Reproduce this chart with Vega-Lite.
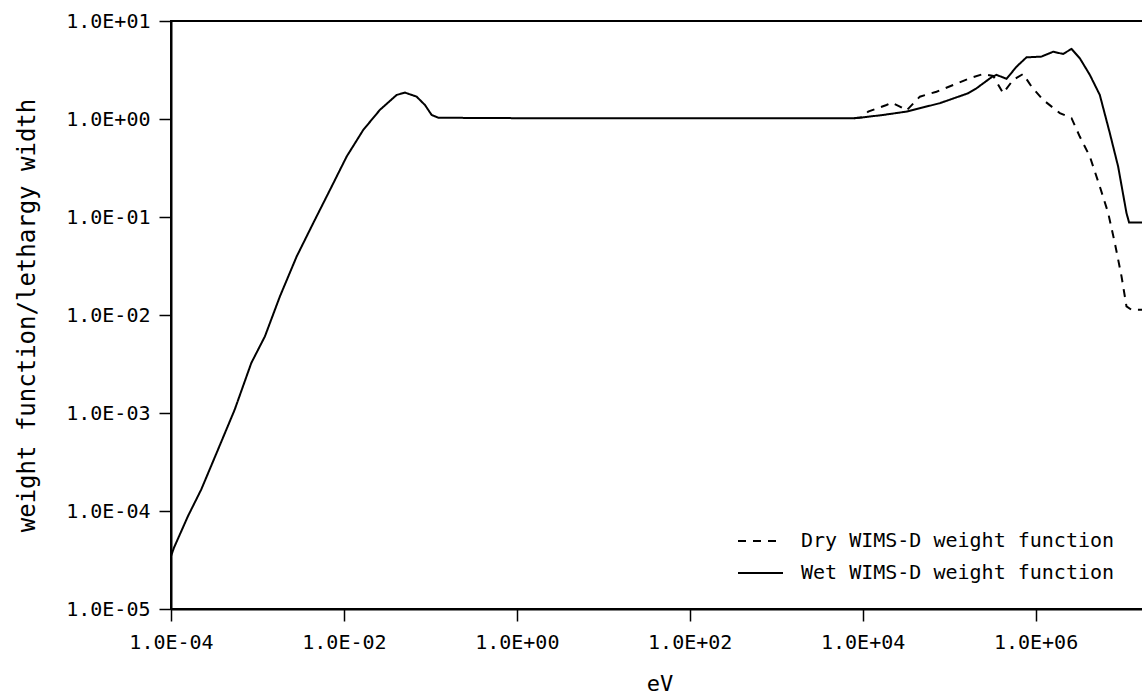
{
  "$schema": "https://vega.github.io/schema/vega-lite/v6.json",
  "autosize": {"type": "none"},
  "padding": {"left": 171, "top": 21, "right": 0, "bottom": 86},
  "width": 977,
  "height": 588,
  "background": "white",
  "config": {
    "view": {"stroke": "black", "strokeWidth": 2},
    "font": "DejaVu Sans Mono",
    "axis": {
      "grid": false,
      "domainColor": "black",
      "domainWidth": 2,
      "tickColor": "black",
      "tickWidth": 1.5,
      "tickSize": 12,
      "labelFont": "DejaVu Sans Mono",
      "labelFontSize": 20,
      "labelColor": "black",
      "labelFlush": false,
      "labelOverlap": false,
      "titleFont": "DejaVu Sans Mono",
      "titleFontWeight": "normal",
      "titleColor": "black"
    }
  },
  "data": {
    "values": [
      {"E": 1.0e-4, "W": 3.46e-5, "series": "Wet WIMS-D weight function"},
      {"E": 1.08e-4, "W": 4.2e-5, "series": "Wet WIMS-D weight function"},
      {"E": 1.57e-4, "W": 8.85e-5, "series": "Wet WIMS-D weight function"},
      {"E": 2.24e-4, "W": 1.66e-4, "series": "Wet WIMS-D weight function"},
      {"E": 3.50e-4, "W": 4.24e-4, "series": "Wet WIMS-D weight function"},
      {"E": 5.45e-4, "W": 1.08e-3, "series": "Wet WIMS-D weight function"},
      {"E": 8.49e-4, "W": 3.24e-3, "series": "Wet WIMS-D weight function"},
      {"E": 1.22e-3, "W": 6.05e-3, "series": "Wet WIMS-D weight function"},
      {"E": 1.82e-3, "W": 1.55e-2, "series": "Wet WIMS-D weight function"},
      {"E": 2.84e-3, "W": 3.95e-2, "series": "Wet WIMS-D weight function"},
      {"E": 4.42e-3, "W": 8.67e-2, "series": "Wet WIMS-D weight function"},
      {"E": 6.90e-3, "W": 0.189, "series": "Wet WIMS-D weight function"},
      {"E": 1.076e-2, "W": 0.414, "series": "Wet WIMS-D weight function"},
      {"E": 1.675e-2, "W": 0.774, "series": "Wet WIMS-D weight function"},
      {"E": 2.61e-2, "W": 1.24, "series": "Wet WIMS-D weight function"},
      {"E": 4.08e-2, "W": 1.76, "series": "Wet WIMS-D weight function"},
      {"E": 5.08e-2, "W": 1.86, "series": "Wet WIMS-D weight function"},
      {"E": 6.94e-2, "W": 1.69, "series": "Wet WIMS-D weight function"},
      {"E": 8.66e-2, "W": 1.39, "series": "Wet WIMS-D weight function"},
      {"E": 0.1035, "W": 1.10, "series": "Wet WIMS-D weight function"},
      {"E": 0.1234, "W": 1.03, "series": "Wet WIMS-D weight function"},
      {"E": 1.0, "W": 1.02, "series": "Wet WIMS-D weight function"},
      {"E": 100, "W": 1.02, "series": "Wet WIMS-D weight function"},
      {"E": 8000, "W": 1.02, "series": "Wet WIMS-D weight function"},
      {"E": 1.01e4, "W": 1.04, "series": "Wet WIMS-D weight function"},
      {"E": 1.73e4, "W": 1.10, "series": "Wet WIMS-D weight function"},
      {"E": 3.22e4, "W": 1.19, "series": "Wet WIMS-D weight function"},
      {"E": 7.82e4, "W": 1.45, "series": "Wet WIMS-D weight function"},
      {"E": 1.66e5, "W": 1.83, "series": "Wet WIMS-D weight function"},
      {"E": 2.08e5, "W": 2.06, "series": "Wet WIMS-D weight function"},
      {"E": 3.10e5, "W": 2.67, "series": "Wet WIMS-D weight function"},
      {"E": 3.54e5, "W": 2.82, "series": "Wet WIMS-D weight function"},
      {"E": 4.62e5, "W": 2.57, "series": "Wet WIMS-D weight function"},
      {"E": 6.03e5, "W": 3.42, "series": "Wet WIMS-D weight function"},
      {"E": 7.87e5, "W": 4.26, "series": "Wet WIMS-D weight function"},
      {"E": 1.17e6, "W": 4.33, "series": "Wet WIMS-D weight function"},
      {"E": 1.60e6, "W": 4.86, "series": "Wet WIMS-D weight function"},
      {"E": 2.08e6, "W": 4.61, "series": "Wet WIMS-D weight function"},
      {"E": 2.61e6, "W": 5.19, "series": "Wet WIMS-D weight function"},
      {"E": 3.25e6, "W": 4.17, "series": "Wet WIMS-D weight function"},
      {"E": 4.25e6, "W": 2.82, "series": "Wet WIMS-D weight function"},
      {"E": 5.54e6, "W": 1.76, "series": "Wet WIMS-D weight function"},
      {"E": 7.24e6, "W": 0.716, "series": "Wet WIMS-D weight function"},
      {"E": 9.03e6, "W": 0.327, "series": "Wet WIMS-D weight function"},
      {"E": 1.127e7, "W": 0.110, "series": "Wet WIMS-D weight function"},
      {"E": 1.208e7, "W": 0.088, "series": "Wet WIMS-D weight function"},
      {"E": 2.0e7, "W": 0.088, "series": "Wet WIMS-D weight function"},
      {"E": 8000, "W": 1.02, "series": "Dry WIMS-D weight function"},
      {"E": 1.0e4, "W": 1.04, "series": "Dry WIMS-D weight function"},
      {"E": 1.16e4, "W": 1.19, "series": "Dry WIMS-D weight function"},
      {"E": 1.89e4, "W": 1.39, "series": "Dry WIMS-D weight function"},
      {"E": 2.16e4, "W": 1.47, "series": "Dry WIMS-D weight function"},
      {"E": 2.70e4, "W": 1.34, "series": "Dry WIMS-D weight function"},
      {"E": 3.22e4, "W": 1.22, "series": "Dry WIMS-D weight function"},
      {"E": 4.59e4, "W": 1.69, "series": "Dry WIMS-D weight function"},
      {"E": 7.16e4, "W": 1.90, "series": "Dry WIMS-D weight function"},
      {"E": 1.74e5, "W": 2.61, "series": "Dry WIMS-D weight function"},
      {"E": 2.48e5, "W": 2.88, "series": "Dry WIMS-D weight function"},
      {"E": 3.24e5, "W": 2.75, "series": "Dry WIMS-D weight function"},
      {"E": 4.22e5, "W": 1.83, "series": "Dry WIMS-D weight function"},
      {"E": 5.51e5, "W": 2.51, "series": "Dry WIMS-D weight function"},
      {"E": 7.19e5, "W": 2.88, "series": "Dry WIMS-D weight function"},
      {"E": 8.99e5, "W": 2.14, "series": "Dry WIMS-D weight function"},
      {"E": 1.22e6, "W": 1.57, "series": "Dry WIMS-D weight function"},
      {"E": 1.91e6, "W": 1.15, "series": "Dry WIMS-D weight function"},
      {"E": 2.61e6, "W": 1.02, "series": "Dry WIMS-D weight function"},
      {"E": 3.25e6, "W": 0.662, "series": "Dry WIMS-D weight function"},
      {"E": 4.25e6, "W": 0.414, "series": "Dry WIMS-D weight function"},
      {"E": 5.54e6, "W": 0.205, "series": "Dry WIMS-D weight function"},
      {"E": 6.92e6, "W": 0.110, "series": "Dry WIMS-D weight function"},
      {"E": 8.27e6, "W": 0.0542, "series": "Dry WIMS-D weight function"},
      {"E": 9.88e6, "W": 0.0248, "series": "Dry WIMS-D weight function"},
      {"E": 1.127e7, "W": 0.01225, "series": "Dry WIMS-D weight function"},
      {"E": 1.29e7, "W": 0.0113, "series": "Dry WIMS-D weight function"},
      {"E": 2.0e7, "W": 0.0113, "series": "Dry WIMS-D weight function"}
    ]
  },
  "mark": {"type": "line", "strokeWidth": 2, "color": "black", "clip": true},
  "encoding": {
    "x": {
      "field": "E",
      "type": "quantitative",
      "scale": {"type": "log", "domain": [1e-4, 2e7], "nice": false},
      "axis": {
        "title": "eV",
        "titleFontSize": 22,
        "titleBaseline": "middle",
        "titleY": 74,
        "values": [1e-4, 1e-2, 1, 100, 10000, 1000000],
        "labelPadding": 11,
        "labelExpr": "'1.0E' + (datum.value >= 1 ? '+' : '-') + (abs(round(log(datum.value)/LN10)) < 10 ? '0' : '') + abs(round(log(datum.value)/LN10))"
      }
    },
    "y": {
      "field": "W",
      "type": "quantitative",
      "scale": {"type": "log", "domain": [1e-5, 10], "nice": false},
      "axis": {
        "title": "weight function/lethargy width",
        "titleFontSize": 24,
        "titleAngle": -90,
        "titleAlign": "center",
        "titleBaseline": "middle",
        "titleX": -144,
        "titleY": 294,
        "values": [1e-5, 1e-4, 1e-3, 1e-2, 1e-1, 1, 10],
        "labelPadding": 9,
        "labelExpr": "'1.0E' + (datum.value >= 1 ? '+' : '-') + (abs(round(log(datum.value)/LN10)) < 10 ? '0' : '') + abs(round(log(datum.value)/LN10))"
      }
    },
    "strokeDash": {
      "field": "series",
      "type": "nominal",
      "scale": {"domain": ["Dry WIMS-D weight function", "Wet WIMS-D weight function"], "range": [[8, 7], [1, 0]]},
      "legend": {
        "title": null,
        "orient": "none",
        "legendX": 566,
        "legendY": 504,
        "padding": 0,
        "symbolType": "stroke",
        "symbolSize": 2025,
        "symbolStrokeWidth": 2,
        "symbolStrokeColor": "black",
        "labelFont": "DejaVu Sans Mono",
        "labelFontSize": 20,
        "labelColor": "black",
        "labelLimit": 0,
        "labelOffset": 17,
        "clipHeight": 32,
        "rowPadding": 0
      }
    }
  }
}
